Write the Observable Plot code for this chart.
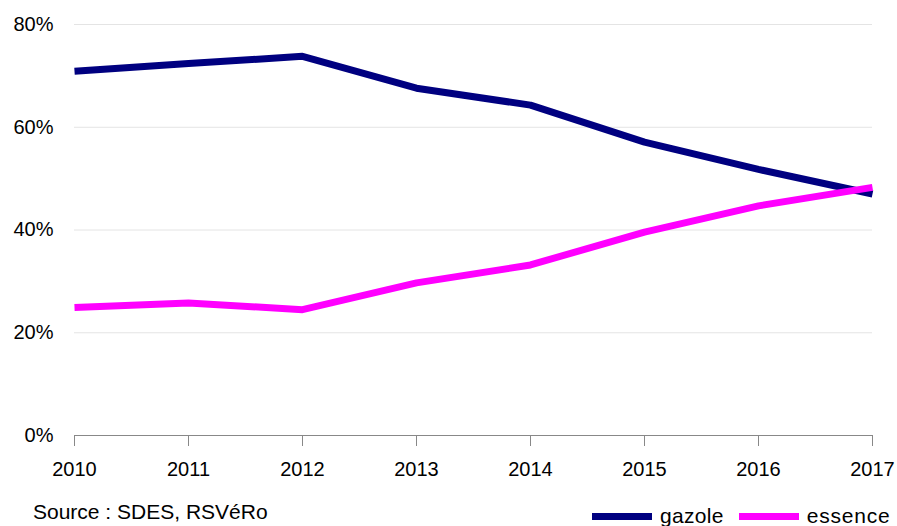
<!DOCTYPE html>
<html><head><meta charset="utf-8">
<script src="https://cdn.jsdelivr.net/npm/d3@7"></script>
<script src="https://cdn.jsdelivr.net/npm/@observablehq/plot@0.6"></script>
<style>
body{margin:0;background:#fff;font-family:"Liberation Sans",Arial,sans-serif;}
#wrap{position:relative;width:897px;height:526px;overflow:hidden;}
#src{position:absolute;left:33px;top:499px;font-size:21px;line-height:26px;color:#000;white-space:nowrap;}
#leg{position:absolute;left:592px;top:503px;font-size:21px;line-height:26px;color:#000;display:flex;align-items:center;white-space:nowrap;}
.sw{display:inline-block;width:60px;height:7px;margin-right:8px;}
</style></head><body>
<div id="wrap"><div id="chart"></div>
<div id="src">Source : SDES, RSVéRo</div>
<div id="leg"><span class="sw" style="background:#000080"></span><span style="margin-right:15px;letter-spacing:0.3px">gazole</span><span class="sw" style="background:#ff00ff"></span><span style="letter-spacing:0.8px">essence</span></div>
</div>
<script>
const years = [2010, 2011, 2012, 2013, 2014, 2015, 2016, 2017];
const gazole = [70.9, 72.4, 73.8, 67.6, 64.3, 57.1, 51.8, 47.0];
const essence = [24.9, 25.8, 24.5, 29.7, 33.2, 39.6, 44.7, 48.3];
const seriesNames = ["gazole", "essence"];
const seriesColors = ["#000080", "#ff00ff"];
const yTicks = [0, 20, 40, 60, 80];

const data = [];
years.forEach((y, i) => data.push({year: y, value: gazole[i], series: "gazole"}));
years.forEach((y, i) => data.push({year: y, value: essence[i], series: "essence"}));

const chart = Plot.plot({
  width: 897, height: 526,
  marginLeft: 74, marginRight: 25, marginTop: 24, marginBottom: 91,
  style: {fontFamily: "Liberation Sans, Arial, sans-serif", fontSize: "20px", color: "#000", background: "#fff"},
  x: {domain: [2010, 2017], ticks: years, tickFormat: d => String(d)},
  y: {domain: [0, 80], ticks: yTicks, tickFormat: d => d + "%"},
  color: {domain: seriesNames, range: seriesColors},
  marks: [
    Plot.gridY(yTicks.filter(d => d > 0), {stroke: "#e4e4e4", strokeOpacity: 1, strokeWidth: 1}),
    Plot.axisY({ticks: yTicks, tickSize: 0, tickPadding: 21, tickFormat: d => d + "%", label: null, fontSize: 20}),
    Plot.axisX({ticks: years, tickSize: 11, tickPadding: 15, tickFormat: d => String(d), label: null, stroke: "#888", fontSize: 20}),
    Plot.ruleY([0], {stroke: "#888", strokeWidth: 1}),
    Plot.line(data, {x: "year", y: "value", z: "series", stroke: "series", strokeWidth: 7, strokeLinejoin: "miter", strokeLinecap: "butt"})
  ]
});
document.getElementById("chart").appendChild(chart);
</script>
</body></html>
